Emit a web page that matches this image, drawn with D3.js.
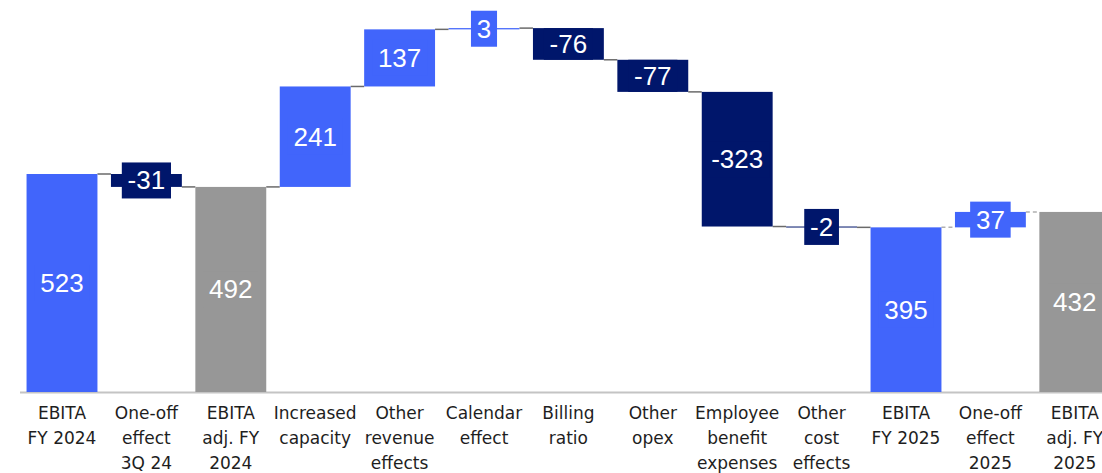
<!DOCTYPE html>
<html><head><meta charset="utf-8">
<script src="https://cdn.jsdelivr.net/npm/d3@7"></script>
<style>
html,body{margin:0;padding:0;background:#fff;overflow:hidden;}
</style></head>
<body><svg id="chart" width="1102" height="473"></svg>
<script>
const categories = ["EBITA FY 2024","One-off effect 3Q 24","EBITA adj. FY 2024","Increased capacity","Other revenue effects","Calendar effect","Billing ratio","Other opex","Employee benefit expenses","Other cost effects","EBITA FY 2025","One-off effect 2025","EBITA adj. FY 2025"];
const labelLines = [["EBITA","FY 2024"],["One-off","effect","3Q 24"],["EBITA","adj. FY","2024"],["Increased","capacity"],["Other","revenue","effects"],["Calendar","effect"],["Billing","ratio"],["Other","opex"],["Employee","benefit","expenses"],["Other","cost","effects"],["EBITA","FY 2025"],["One-off","effect","2025"],["EBITA","adj. FY","2025"]];
const values = [523,-31,492,241,137,3,-76,-77,-323,-2,395,37,432];
const kinds = ["total","delta","total","delta","delta","delta","delta","delta","delta","delta","total","delta","total"];
const kindColor = ["blue","navy","gray","blue","blue","blue","navy","navy","navy","navy","blue","blue","gray"];

const colors = {blue:"#4165fb", navy:"#00166b", gray:"#979797"};
const svg = d3.select("#chart");
const W = 1102, H = 473;
const baseY = 392;

const x = d3.scaleBand().domain(categories).range([19.8, 1117]).padding(0);
const y = d3.scaleLinear().domain([0, 523]).range([baseY, 174]);
const barW = x.bandwidth() * 0.84;

let run = 0;
const data = categories.map((c, i) => {
  let start, end;
  if (kinds[i] === "total") { start = 0; end = values[i]; run = values[i]; }
  else { start = run; end = run + values[i]; run = end; }
  return {c, i, v: values[i], start, end, color: colors[kindColor[i]]};
});

// axis line
svg.append("line").attr("x1", 20).attr("x2", W).attr("y1", baseY + 0.5).attr("y2", baseY + 0.5)
  .attr("stroke", "#c4c4c4").attr("stroke-width", 2);

// connectors
const dashedFrom = new Set([10, 11]);
for (let i = 0; i < data.length - 1; i++) {
  const level = data[i].end;
  const x1 = x(data[i].c) + x.bandwidth()/2 + barW/2;
  const x2 = x(data[i+1].c) + x.bandwidth()/2 - barW/2;
  svg.append("line").attr("x1", x1).attr("x2", x2).attr("y1", y(level)).attr("y2", y(level))
    .attr("stroke", dashedFrom.has(i) ? "#b0b0b0" : "#6a6a6a")
    .attr("stroke-width", 1.5)
    .attr("stroke-dasharray", dashedFrom.has(i) ? "4,3" : null);
}

// bars
svg.append("g").selectAll("rect").data(data).join("rect")
  .attr("x", d => x(d.c) + x.bandwidth()/2 - barW/2)
  .attr("width", barW)
  .attr("y", d => y(Math.max(d.start, d.end)))
  .attr("height", d => Math.max(1, Math.abs(y(d.start) - y(d.end))))
  .attr("fill", d => d.color);

// value labels with background boxes
const lg = svg.append("g");
data.forEach(d => {
  const cx = x(d.c) + x.bandwidth()/2;
  const cy = (y(d.start) + y(d.end)) / 2;
  const barH = Math.abs(y(d.start) - y(d.end));
  const g = lg.append("g");
  const t = g.append("text").attr("x", cx).attr("y", cy)
    .attr("text-anchor", "middle").attr("dominant-baseline", "central")
    .attr("font-family", "Liberation Sans, Arial, sans-serif").attr("font-size", 26)
    .attr("fill", "#fff").text(d.v);
  const bb = t.node().getBBox();
  const padX = 5.8;
  const h = barH >= 28 ? Math.min(barH, 36) : 36;
  g.insert("rect", "text").attr("x", cx - bb.width/2 - padX).attr("y", cy - h/2)
    .attr("width", bb.width + 2*padX).attr("height", h).attr("fill", d.color);
});

// category labels
const cg = svg.append("g");
labelLines.forEach((lines, i) => {
  const cx = x(categories[i]) + x.bandwidth()/2;
  const t = cg.append("text").attr("text-anchor", "middle")
    .attr("font-family", "DejaVu Sans, sans-serif").attr("font-size", 17)
    .attr("fill", "#1e1e1e");
  lines.forEach((ln, k) => {
    t.append("tspan").attr("x", cx).attr("y", 418.5 + k * 25.3).text(ln);
  });
});
</script></body></html>
